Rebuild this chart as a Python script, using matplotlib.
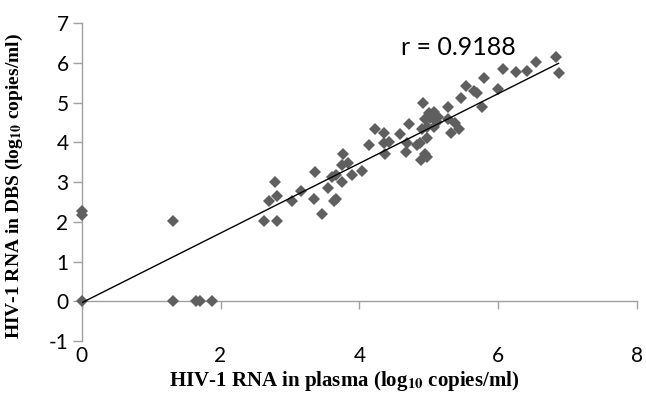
import matplotlib
matplotlib.use("Agg")
import matplotlib.pyplot as plt
import numpy as np

plasma = [0, 0, 0, 1.31, 1.31, 1.64, 1.70, 1.88,
          2.62, 2.81, 2.70, 2.82, 2.79, 3.03, 3.16,
          3.34, 3.46, 3.36, 3.55, 3.61, 3.63, 3.67, 3.66, 3.75, 3.75, 3.77, 3.84, 3.89,
          4.04, 4.14, 4.22, 4.36, 4.36, 4.43, 4.37, 4.58, 4.67, 4.71,
          4.68, 4.83, 4.87, 4.89, 4.97, 4.94, 4.97, 4.90, 4.94, 5.00, 4.92, 5.08, 5.08,
          5.13, 5.27, 5.27, 5.32, 5.38, 5.44, 5.46, 5.53, 5.65, 5.69, 5.77, 5.79,
          6.00, 6.07, 6.25, 6.42, 6.54, 6.84, 6.87,
          5.02, 5.12, 4.98]
dbs = [2.27, 2.18, 0, 2.02, 0, 0, 0, 0,
       2.02, 2.02, 2.53, 2.65, 3.01, 2.53, 2.78,
       2.57, 2.19, 3.25, 2.85, 3.12, 2.52, 2.57, 3.18, 3.01, 3.43, 3.70, 3.49, 3.18,
       3.29, 3.93, 4.33, 4.24, 3.98, 4.00, 3.71, 4.21, 3.77, 4.46,
       3.98, 3.93, 3.98, 3.56, 3.64, 3.72, 4.10, 4.35, 4.58, 4.73, 4.98, 4.77, 4.40,
       4.63, 4.58, 4.88, 4.23, 4.48, 4.35, 5.13, 5.42, 5.30, 5.24, 4.90, 5.61,
       5.34, 5.84, 5.77, 5.81, 6.03, 6.16, 5.74,
       4.62, 4.52, 4.40]
trend_slope = 0.878
trend_intercept = -0.04
xticks = [0, 2, 4, 6, 8]
yticks = [-1, 0, 1, 2, 3, 4, 5, 6, 7]
r_label = "r = 0.9188"

plt.rcParams['mathtext.fontset'] = 'stix'
plt.rcParams['axes.unicode_minus'] = False

fig = plt.figure(figsize=(6.46, 3.93), dpi=100)
ax = fig.add_axes([81.7/646, 1 - 340.9/393, (637 - 81.7)/646, (340.9 - 23.3)/393])

ax.plot(plasma, dbs, linestyle='none', marker='D', markersize=5.8,
        color='#5f5f5f', markeredgewidth=0, clip_on=False, zorder=3)

x = np.array(plasma)
xl = np.array([0, x.max()])
ax.plot(xl, trend_slope * xl + trend_intercept, color='black', linewidth=1.0,
        zorder=4)

ax.set_xlim(0, 8)
ax.set_ylim(-1, 7)
ax.set_xticks(xticks)
ax.set_yticks(yticks)

gray = '#a0a0a0'
ax.spines['top'].set_visible(False)
ax.spines['right'].set_visible(False)
ax.spines['bottom'].set_position(('data', 0))
ax.spines['bottom'].set_color(gray)
ax.spines['left'].set_color(gray)
ax.spines['bottom'].set_linewidth(1.0)
ax.spines['left'].set_linewidth(1.0)

ax.tick_params(axis='x', direction='out', length=6, color=gray, width=1.0,
               pad=26, labelsize=15)
ax.tick_params(axis='y', direction='out', length=6.5, color=gray, width=1.0,
               pad=3, labelsize=15)
for lab in ax.get_xticklabels() + ax.get_yticklabels():
    lab.set_fontfamily('Lato')

ax.text(4.60, 6.40, r_label, ha='left', va='center', fontsize=18,
        family='Lato')

fig.text(344/646, 1 - 381/393,
         r"HIV-1 RNA in plasma (log$_{\mathbf{10}}$ copies/ml)",
         ha='center', va='center', fontsize=15, fontweight='bold',
         family='Liberation Serif')
fig.text(14/646, 1 - 186/393,
         r"HIV-1 RNA in DBS (log$_{\mathbf{10}}$ copies/ml)",
         ha='center', va='center', rotation=90, fontsize=14, fontweight='bold',
         family='Liberation Serif')

fig.savefig('out.png', dpi=100)
